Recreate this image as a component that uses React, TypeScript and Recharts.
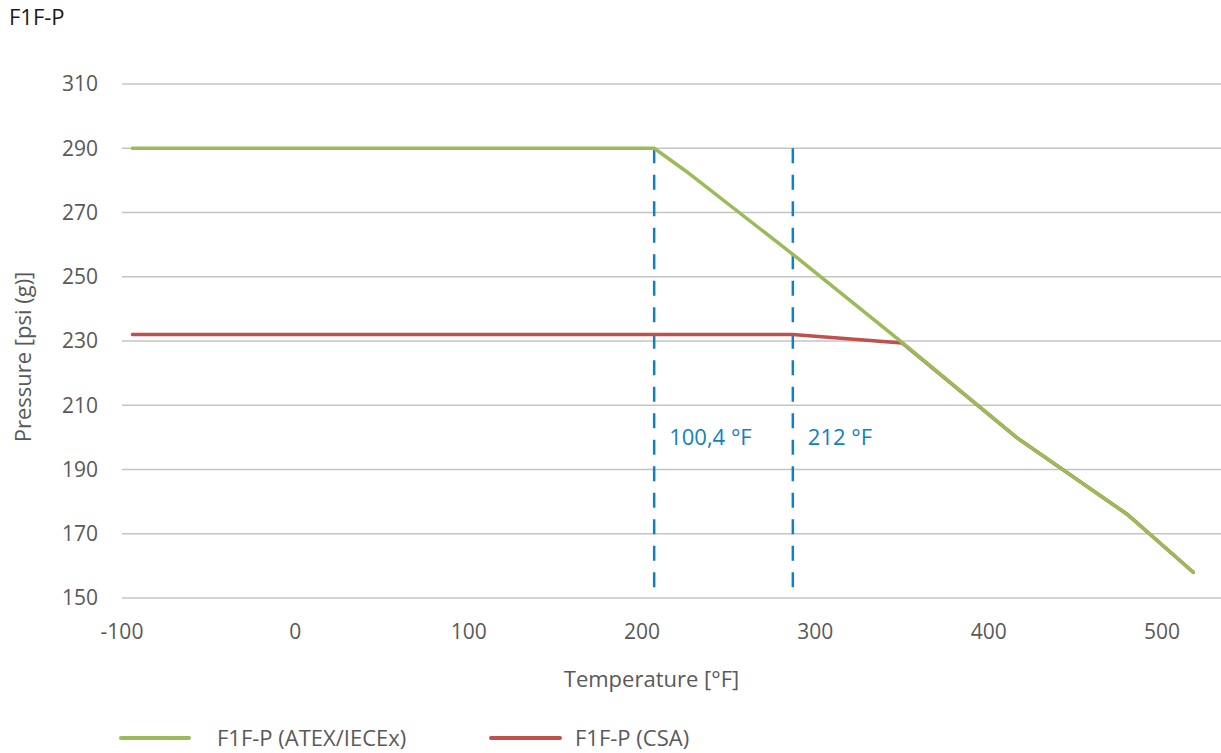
import { CartesianGrid, Label, Line, LineChart, ReferenceDot, ReferenceLine, XAxis, YAxis } from "recharts";

// readings
const atexTemp = [-94, 207, 225, 287, 350, 416, 480, 518];
const atexPressure = [290, 290, 283, 257, 229.6, 200, 176, 158];

const csaTemp = [-94, 287, 350, 416, 480, 518];
const csaPressure = [232, 232, 229.4, 200, 176, 158];

const markerTemps = [207, 287];
const markerLabels = ["100,4 °F", "212 °F"];

const xTicks = [-100, 0, 100, 200, 300, 400, 500];
const yTicks = [150, 170, 190, 210, 230, 250, 270, 290, 310];

const atexData = atexTemp.map((t, i) => ({ t, p: atexPressure[i] }));
const csaData = csaTemp.map((t, i) => ({ t, p: csaPressure[i] }));

const FONT = "'Open Sans', sans-serif";
const GREY = "#595959";
const GREEN = "#9bbb59";
const RED = "#c0504d";
const BLUE = "#1080c4";

const tickStyle = { fill: GREY, fontSize: 21, fontFamily: FONT };

function YTitle({ viewBox }: any) {
  const x = viewBox.x - 31;
  const y = viewBox.y + viewBox.height / 2 + 16;
  return (
    <text
      x={x}
      y={y}
      transform={`rotate(-90 ${x} ${y})`}
      textAnchor="middle"
      fill={GREY}
      fontSize={22}
      fontFamily={FONT}
    >
      Pressure [psi (g)]
    </text>
  );
}

function XTitle({ viewBox }: any) {
  return (
    <text
      x={viewBox.x + viewBox.width / 2 - 20}
      y={687}
      textAnchor="middle"
      fill={GREY}
      fontSize={22}
      fontFamily={FONT}
    >
      Temperature [°F]
    </text>
  );
}

function markerLabel(text: string) {
  return ({ viewBox }: any) => (
    <text x={viewBox.x + 15} y={viewBox.y + 8} fill={BLUE} fontSize={22} fontFamily={FONT}>
      {text}
    </text>
  );
}

export default function App() {
  return (
    <div style={{ position: "absolute", left: 0, top: 0, width: 1221, height: 753, background: "#fff" }}>
      <LineChart width={1221} height={753} margin={{ top: 84, right: 0, left: 62, bottom: 125 }}>
        <CartesianGrid vertical={false} stroke="#c4c4c4" strokeWidth={1.4} />
        <XAxis
          type="number"
          dataKey="t"
          domain={[-100, 534]}
          ticks={xTicks}
          height={30}
          axisLine={false}
          tickLine={false}
          tickMargin={20}
          tick={tickStyle}
          allowDataOverflow
        >
          <Label content={XTitle} />
        </XAxis>
        <YAxis
          type="number"
          dataKey="p"
          domain={[150, 310]}
          ticks={yTicks}
          width={60}
          axisLine={false}
          tickLine={false}
          tickMargin={18}
          tick={tickStyle}
        >
          <Label content={YTitle} />
        </YAxis>
        {markerTemps.map((t) => (
          <ReferenceLine
            key={t}
            segment={[
              { x: t, y: 290 },
              { x: t, y: 150 },
            ]}
            stroke={BLUE}
            strokeWidth={2.5}
            strokeDasharray="15 11.5"
          />
        ))}
        {markerTemps.map((t, i) => (
          <ReferenceDot key={"l" + t} x={t} y={200} r={0} stroke="none" fill="none" label={markerLabel(markerLabels[i])} />
        ))}
        <Line
          data={csaData}
          dataKey="p"
          type="linear"
          stroke={RED}
          strokeWidth={3.5}
          strokeLinecap="round"
          dot={false}
          activeDot={false}
          isAnimationActive={false}
        />
        <Line
          data={atexData}
          dataKey="p"
          type="linear"
          stroke={GREEN}
          strokeWidth={3.5}
          strokeLinecap="round"
          dot={false}
          activeDot={false}
          isAnimationActive={false}
        />
      </LineChart>
      <svg
        width={1221}
        height={753}
        style={{ position: "absolute", left: 0, top: 0, pointerEvents: "none" }}
      >
        <text x={9} y={25} fill="#1a1a1a" fontSize={22} fontFamily={FONT}>
          F1F-P
        </text>
        <line x1={121} y1={738} x2={189} y2={738} stroke={GREEN} strokeWidth={4} strokeLinecap="round" />
        <text x={217} y={746} fill={GREY} fontSize={22} fontFamily={FONT}>
          F1F-P (ATEX/IECEx)
        </text>
        <line x1={491} y1={738} x2={560} y2={738} stroke={RED} strokeWidth={4} strokeLinecap="round" />
        <text x={575} y={746} fill={GREY} fontSize={22} fontFamily={FONT}>
          F1F-P (CSA)
        </text>
      </svg>
    </div>
  );
}
